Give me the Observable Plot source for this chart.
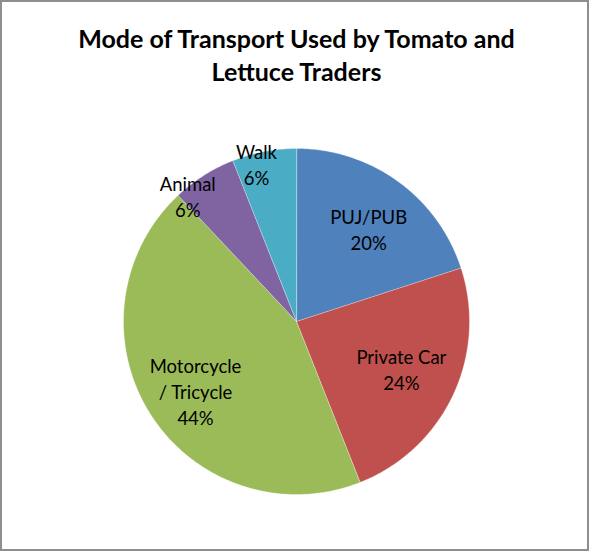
<!DOCTYPE html>
<html>
<head>
<meta charset="utf-8">
<script src="https://cdn.jsdelivr.net/npm/d3@7"></script>
<script src="https://cdn.jsdelivr.net/npm/@observablehq/plot@0.6"></script>
<style>
  html, body { margin: 0; padding: 0; background: #fff; }
  #wrap { position: relative; width: 590px; height: 552px; overflow: hidden; }
  #frame { position: absolute; left: 0; top: 0; width: 589px; height: 551px; box-sizing: border-box;
           border: 2px solid #8e8e8e; pointer-events: none; }
  #chart { position: absolute; left: 0; top: 0; }
</style>
</head>
<body>
<div id="wrap"><div id="chart"></div><div id="frame"></div></div>
<script>
// ---- data ----
const categories = ["PUJ/PUB", "Private Car", "Motorcycle / Tricycle", "Animal", "Walk"];
const labelLines = [["PUJ/PUB"], ["Private Car"], ["Motorcycle", "/ Tricycle"], ["Animal"], ["Walk"]];
const values = [20, 24, 44, 6, 6];
const colors = ["#4F81BD", "#C0504D", "#9BBB59", "#8064A2", "#4BACC6"];
const titleLines = ["Mode of Transport Used by Tomato and", "Lettuce Traders"];

// ---- layout (label placement: radius fraction, angular nudge in degrees) ----
const W = 590, H = 552;
const cx = 296, cy = 321, R = 173;
const labelRadius = [0.667, 0.67, 0.717, 0.953, 0.925];
const labelNudge = [2.7, 0, -3.1, -8.9, -3.7];
const font = "Lato, 'Open Sans', sans-serif";

const arcs = d3.pie().sort(null).value(d => d)(values);

const marks = [];
arcs.forEach((a, i) => {
  const n = Math.max(8, Math.ceil((a.endAngle - a.startAngle) * 80));
  const pts = [{x: 0, y: 0}];
  for (let k = 0; k <= n; k++) {
    const t = a.startAngle + (a.endAngle - a.startAngle) * k / n;
    pts.push({x: R * Math.sin(t), y: -R * Math.cos(t)});
  }
  marks.push(Plot.line(pts, {x: "x", y: "y", fill: colors[i], stroke: "#ffffff", strokeOpacity: 0.45, strokeWidth: 0.7, curve: "linear-closed"}));
});

// labels
const labelRows = [];
arcs.forEach((a, i) => {
  const mid = (a.startAngle + a.endAngle) / 2 + labelNudge[i] * Math.PI / 180;
  const r = R * labelRadius[i];
  const lines = [...labelLines[i], values[i] + "%"];
  const lh = 26;
  const x = r * Math.sin(mid);
  const y0 = -r * Math.cos(mid) - (lines.length - 1) * lh / 2;
  lines.forEach((t, j) => labelRows.push({x, y: y0 + j * lh, text: t}));
});
marks.push(Plot.text(labelRows, {x: "x", y: "y", text: "text", fontSize: 18.5, fill: "#000", fontFamily: font}));

// title
const titleRows = titleLines.map((t, j) => ({x: 0, y: -cy + 39 + j * 33, text: t}));
marks.push(Plot.text(titleRows, {x: "x", y: "y", text: "text", fontSize: 25, fontWeight: "bold", fill: "#000", fontFamily: font}));

const chart = Plot.plot({
  width: W, height: H,
  margin: 0,
  x: {domain: [-cx, W - cx], axis: null},
  y: {domain: [H - cy, -cy], axis: null},
  style: {background: "transparent", overflow: "visible"},
  marks
});
document.getElementById("chart").appendChild(chart);
</script>
</body>
</html>
